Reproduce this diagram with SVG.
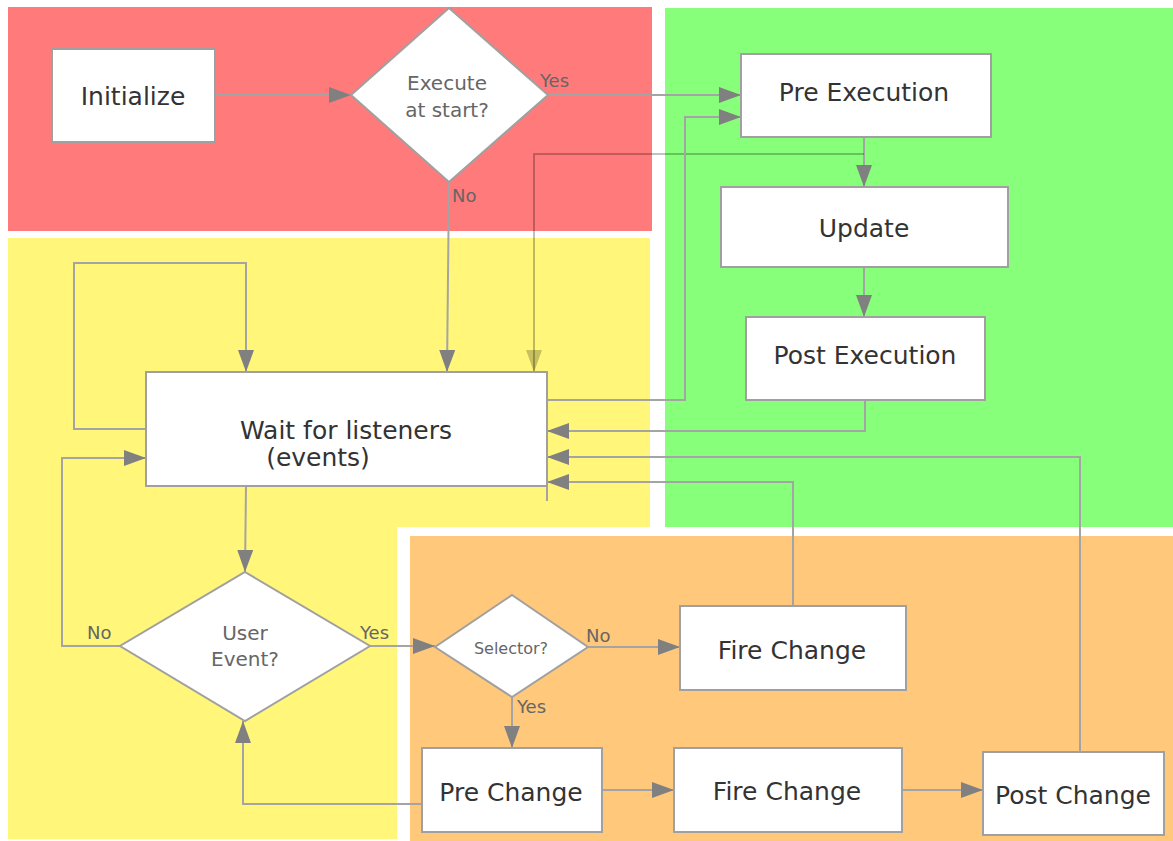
<svg xmlns="http://www.w3.org/2000/svg" width="1173" height="841" viewBox="0 0 1173 841">
<style>
.box{fill:#fff;stroke:#a0a0a0;stroke-width:2}
.t{font-family:"DejaVu Sans",Verdana,sans-serif;font-size:25px;fill:#333;text-anchor:middle}
.dt{font-family:"DejaVu Sans",Verdana,sans-serif;font-size:20px;fill:#666;text-anchor:middle}
.lb{font-family:"DejaVu Sans",Verdana,sans-serif;font-size:18px;fill:#666}
.c{fill:none;stroke:#a4a4a4;stroke-width:2;marker-end:url(#ah)}
.cn{fill:none;stroke:#a4a4a4;stroke-width:2}
.dk{fill:none;stroke:#000;stroke-opacity:0.32;stroke-width:1.6;marker-end:url(#ahd)}
</style>
<defs>
<marker id="ah" markerUnits="userSpaceOnUse" markerWidth="22" markerHeight="16" refX="22" refY="8" orient="auto">
<path d="M0,0 L22,8 L0,16 z" fill="#808080"/>
</marker>
<marker id="ahd" markerUnits="userSpaceOnUse" markerWidth="22" markerHeight="16" refX="22" refY="8" orient="auto">
<path d="M0,0 L22,8 L0,16 z" fill="#000" fill-opacity="0.22"/>
</marker>
</defs>
<g id="regions">
<rect x="8" y="7" width="644" height="224" fill="#ff7a7a"/>
<rect x="665" y="8" width="508" height="519" fill="#88ff7a"/>
<path d="M8,238 L650,238 L650,527 L397,527 L397,839 L8,839 z" fill="#fff67a"/>
<rect x="410" y="536" width="763" height="305" fill="#ffc87a"/>
</g>
<g id="connectors">
<path class="c" d="M215,95 L351,95"/>
<path class="c" d="M548,95 L741,95"/>
<path class="c" d="M449,182 L447,372"/>
<path class="c" d="M864,137 L864,187"/>
<path class="dk" d="M864,154 L534,154 L534,372"/>
<path class="c" d="M864,267 L864,317"/>
<path class="c" d="M547,400 L685,400 L685,117 L741,117"/>
<path class="c" d="M865,400 L865,431 L547,431"/>
<path class="c" d="M1080,752 L1080,457 L547,457"/>
<path class="c" d="M793,606 L793,482 L547,482"/>
<path class="c" d="M146,429 L74,429 L74,263 L246,263 L246,372"/>
<path class="c" d="M246,486 L245,572"/>
<path class="c" d="M120,646 L62,646 L62,458 L146,458"/>
<path class="c" d="M370,646 L435,646"/>
<path class="c" d="M588,647 L680,647"/>
<path class="c" d="M512,697 L512,748"/>
<path class="c" d="M422,804 L243,804 L243,721"/>
<path class="c" d="M602,790 L674,790"/>
<path class="c" d="M902,790 L983,790"/>
<path class="cn" d="M547,487 L547,501" stroke-width="1"/>
<text class="lb" x="540" y="87">Yes</text>
<text class="lb" x="452" y="202">No</text>
<text class="lb" x="87" y="639">No</text>
<text class="lb" x="360" y="639">Yes</text>
<text class="lb" x="586" y="642">No</text>
<text class="lb" x="517" y="713">Yes</text>
</g>
<g id="initialize">
<rect class="box" x="52" y="49" width="163" height="93"/>
<text class="t" x="133" y="105">Initialize</text>
</g>
<g id="execute-at-start">
<path class="box" d="M449,8 L548,95 L449,182 L351,95 z"/>
<text class="dt" x="447" y="90">Execute</text>
<text class="dt" x="447" y="117">at start?</text>
</g>
<g id="pre-execution">
<rect class="box" x="741" y="54" width="250" height="83"/>
<text class="t" x="864" y="101">Pre Execution</text>
</g>
<g id="update">
<rect class="box" x="721" y="187" width="287" height="80"/>
<text class="t" x="864" y="237">Update</text>
</g>
<g id="post-execution">
<rect class="box" x="746" y="317" width="239" height="83"/>
<text class="t" x="865" y="364">Post Execution</text>
</g>
<g id="wait-for-listeners">
<rect class="box" x="146" y="372" width="401" height="114"/>
<text class="t" x="346" y="439">Wait for listeners</text>
<text class="t" x="318" y="466">(events)</text>
</g>
<g id="user-event">
<path class="box" d="M245,572 L370,646 L245,721 L120,646 z"/>
<text class="dt" x="245" y="640">User</text>
<text class="dt" x="245" y="666">Event?</text>
</g>
<g id="selector">
<path class="box" d="M512,595 L588,647 L512,697 L435,647 z"/>
<text class="dt" x="511" y="654" style="font-size:16px">Selector?</text>
</g>
<g id="fire-change-1">
<rect class="box" x="680" y="606" width="226" height="84"/>
<text class="t" x="792" y="659">Fire Change</text>
</g>
<g id="pre-change">
<rect class="box" x="422" y="748" width="180" height="84"/>
<text class="t" x="511" y="801">Pre Change</text>
</g>
<g id="fire-change-2">
<rect class="box" x="674" y="748" width="228" height="84"/>
<text class="t" x="787" y="800">Fire Change</text>
</g>
<g id="post-change">
<rect class="box" x="983" y="752" width="181" height="83"/>
<text class="t" x="1073" y="804">Post Change</text>
</g>
</svg>
